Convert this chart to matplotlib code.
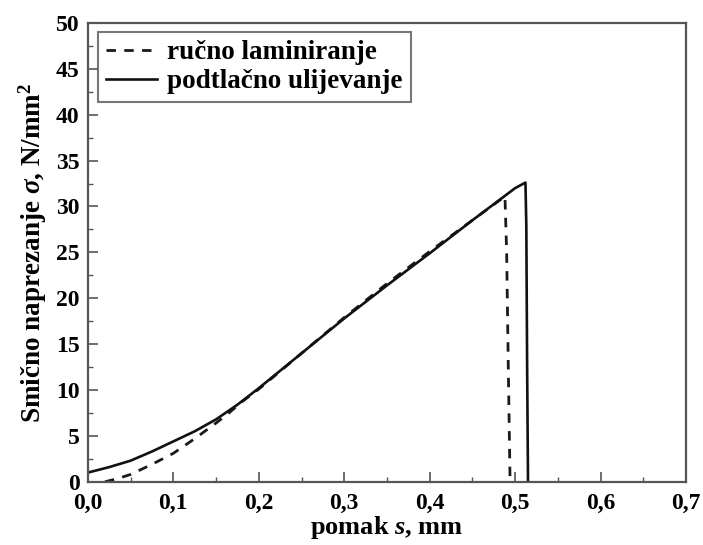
import numpy as np
import matplotlib
matplotlib.use("Agg")
import matplotlib.pyplot as plt
from matplotlib.ticker import MultipleLocator

# podaci očitani s dijagrama
x_podtlacno = [0.0, 0.025, 0.05, 0.075, 0.10, 0.125, 0.15, 0.175, 0.20, 0.25, 0.30, 0.35,
               0.40, 0.45, 0.50, 0.512, 0.513, 0.514, 0.515]
y_podtlacno = [1.0, 1.6, 2.3, 3.3, 4.4, 5.5, 6.8, 8.4, 10.2, 14.0, 17.8, 21.4,
               24.9, 28.5, 32.0, 32.6, 28.0, 12.0, 0.0]

x_rucno = [0.02, 0.035, 0.05, 0.075, 0.10, 0.125, 0.15, 0.165, 0.18, 0.20, 0.25, 0.30,
           0.35, 0.40, 0.45, 0.488, 0.490, 0.492, 0.494]
y_rucno = [0.0, 0.35, 0.8, 1.9, 3.1, 4.7, 6.4, 7.5, 8.7, 10.1, 14.0, 17.9,
           21.6, 25.1, 28.5, 31.1, 25.0, 12.0, 0.0]

x_ticks = [0.0, 0.1, 0.2, 0.3, 0.4, 0.5, 0.6, 0.7]
x_tick_labels = ["0,0", "0,1", "0,2", "0,3", "0,4", "0,5", "0,6", "0,7"]
y_ticks = [0, 5, 10, 15, 20, 25, 30, 35, 40, 45, 50]

plt.rcParams['font.family'] = ['Liberation Serif', 'DejaVu Serif']
plt.rcParams['font.weight'] = 'bold'
plt.rcParams['mathtext.fontset'] = 'custom'
plt.rcParams['mathtext.rm'] = 'Liberation Serif:bold'
plt.rcParams['mathtext.it'] = 'Liberation Serif:italic:bold'
plt.rcParams['mathtext.bf'] = 'Liberation Serif:bold'

fig = plt.figure(figsize=(7.03, 5.45), dpi=100)
ax = fig.add_axes([0.125, 0.116, 0.851, 0.842])

ax.plot(x_rucno, y_rucno, color='#1a1a1a', lw=2.0, ls=(0, (3.4, 3.0)), label='ručno laminiranje')
ax.plot(x_podtlacno, y_podtlacno, color='#111111', lw=1.9, label='podtlačno ulijevanje')

ax.set_xlim(0, 0.7)
ax.set_ylim(0, 50)
ax.set_xticks(x_ticks)
ax.set_xticklabels(x_tick_labels)
ax.set_yticks(y_ticks)
ax.xaxis.set_minor_locator(MultipleLocator(0.05))
ax.yaxis.set_minor_locator(MultipleLocator(2.5))
ax.tick_params(which='major', direction='in', length=7, width=1.2, color='#555555',
               labelsize=17, top=False, right=False)
ax.tick_params(axis='x', which='major', pad=8)
ax.tick_params(axis='y', which='major', pad=6)
ax.tick_params(which='minor', direction='in', length=3.5, width=1.0, color='#555555',
               top=False, right=False)
for lab in ax.get_xticklabels() + ax.get_yticklabels():
    lab.set_fontweight('bold')

for sp in ax.spines.values():
    sp.set_color('#555555')
    sp.set_linewidth(1.6)

ax.set_xlabel(r'pomak $s$, mm', fontsize=19, fontweight='bold', labelpad=0)
ax.set_ylabel(r'Smično naprezanje $\sigma$, N/mm$^2$', fontsize=19.5, fontweight='bold', labelpad=5)

leg = ax.legend(loc='upper left', bbox_to_anchor=(0.0167, 0.980),
                prop={'weight': 'bold', 'size': 19.5}, frameon=True, fancybox=False,
                handlelength=1.9, handletextpad=0.35, borderpad=0.3, labelspacing=0.15,
                borderaxespad=0.0)
leg.get_frame().set_edgecolor('#555555')
leg.get_frame().set_linewidth(1.5)

fig.savefig('out.png', dpi=100)
